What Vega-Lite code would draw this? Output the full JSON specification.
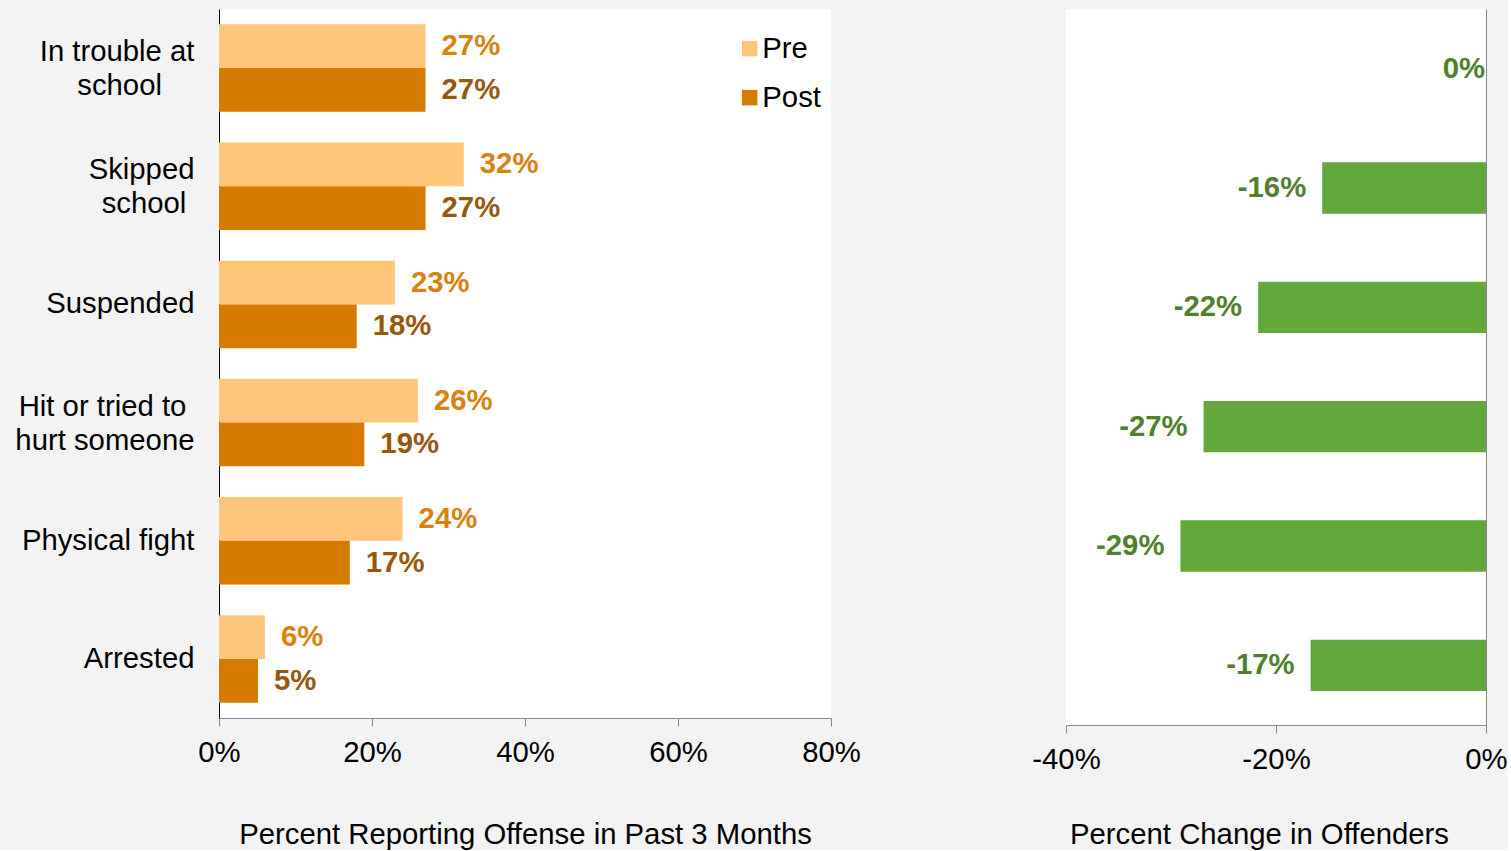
{
  "$schema": "https://vega.github.io/schema/vega-lite/v6.json",
  "background": "#f3f3f3",
  "padding": {"left": 14, "top": 9, "right": 0, "bottom": 0},
  "bounds": "flush",
  "spacing": 235,
  "config": {
    "font": "Liberation Sans",
    "view": {"fill": "white", "stroke": null},
    "axis": {
      "labelFont": "Liberation Sans",
      "labelFontSize": 29.3,
      "labelColor": "#000000",
      "titleFont": "Liberation Sans",
      "titleFontSize": 29.3,
      "titleFontWeight": "normal",
      "titleColor": "#000000",
      "grid": false,
      "labelFlush": false
    },
    "locale": {
      "number": {"decimal": ".", "thousands": ",", "grouping": [3], "currency": ["$", ""], "minus": "-"}
    }
  },
  "datasets": {
    "offense": [
      {"behavior": "In trouble at school", "period": "Pre", "pct": 0.27},
      {"behavior": "In trouble at school", "period": "Post", "pct": 0.27},
      {"behavior": "Skipped school", "period": "Pre", "pct": 0.32},
      {"behavior": "Skipped school", "period": "Post", "pct": 0.27},
      {"behavior": "Suspended", "period": "Pre", "pct": 0.23},
      {"behavior": "Suspended", "period": "Post", "pct": 0.18},
      {"behavior": "Hit or tried to hurt someone", "period": "Pre", "pct": 0.26},
      {"behavior": "Hit or tried to hurt someone", "period": "Post", "pct": 0.19},
      {"behavior": "Physical fight", "period": "Pre", "pct": 0.24},
      {"behavior": "Physical fight", "period": "Post", "pct": 0.171},
      {"behavior": "Arrested", "period": "Pre", "pct": 0.06},
      {"behavior": "Arrested", "period": "Post", "pct": 0.051}
    ],
    "change": [
      {"behavior": "In trouble at school", "change": 0},
      {"behavior": "Skipped school", "change": -0.156},
      {"behavior": "Suspended", "change": -0.217},
      {"behavior": "Hit or tried to hurt someone", "change": -0.269},
      {"behavior": "Physical fight", "change": -0.291},
      {"behavior": "Arrested", "change": -0.167}
    ]
  },
  "hconcat": [
    {
      "width": 612,
      "height": 709,
      "data": {"name": "offense"},
      "encoding": {
        "y": {
          "field": "behavior",
          "type": "nominal",
          "sort": ["In trouble at school", "Skipped school", "Suspended", "Hit or tried to hurt someone", "Physical fight", "Arrested"],
          "scale": {"paddingInner": 0.26, "paddingOuter": 0.13},
          "axis": {
            "title": null,
            "labelExpr": "datum.value == 'In trouble at school' ? ['In trouble at', 'school\u00a0\u00a0\u00a0\u00a0\u200b'] : datum.value == 'Skipped school' ? ['Skipped', 'school\u00a0\u200b'] : datum.value == 'Hit or tried to hurt someone' ? ['Hit or tried to\u00a0\u200b', 'hurt someone'] : datum.value",
            "labelLineHeight": 34,
            "labelOffset": {"condition": {"test": "indexof(['In trouble at school', 'Skipped school', 'Hit or tried to hurt someone'], datum.value) >= 0", "value": -16}, "value": 0},
            "ticks": false,
            "tickSize": 0,
            "labelPadding": 25,
            "labelAlign": "right",
            "labelBaseline": "middle",
            "domainColor": "#000000",
            "domainWidth": 1
          }
        },
        "yOffset": {"field": "period", "type": "nominal", "sort": ["Pre", "Post"]},
        "x": {
          "field": "pct",
          "type": "quantitative",
          "scale": {"domain": [0, 0.8]},
          "axis": {
            "format": ".0%",
            "values": [0, 0.2, 0.4, 0.6, 0.8],
            "title": "Percent Reporting Offense in Past 3 Months",
            "domainColor": "#888888",
            "tickColor": "#888888",
            "tickSize": 8,
            "labelPadding": 12,
            "titlePadding": 53
          }
        }
      },
      "layer": [
        {
          "mark": {"type": "bar"},
          "encoding": {
            "color": {
              "field": "period",
              "type": "nominal",
              "scale": {"domain": ["Pre", "Post"], "range": ["#FEC57B", "#D67B00"]},
              "legend": {
                "title": null,
                "orient": "none",
                "legendX": 516,
                "legendY": 25,
                "symbolType": "square",
                "symbolSize": 240,
                "symbolStrokeWidth": 0,
                "labelFont": "Liberation Sans",
                "labelFontSize": 29.3,
                "labelColor": "#000000",
                "labelOffset": -2,
                "rowPadding": 19
              }
            }
          }
        },
        {
          "mark": {"type": "text", "align": "left", "baseline": "middle", "dx": 16, "fontSize": 29.3, "fontWeight": "bold", "font": "Liberation Sans"},
          "encoding": {
            "text": {"field": "pct", "type": "quantitative", "format": ".0%"},
            "color": {"condition": {"test": "datum.period === 'Pre'", "value": "#D9820F"}, "value": "#98580B"}
          }
        }
      ]
    },
    {
      "width": 420,
      "height": 716,
      "data": {"name": "change"},
      "encoding": {
        "y": {
          "field": "behavior",
          "type": "nominal",
          "sort": ["In trouble at school", "Skipped school", "Suspended", "Hit or tried to hurt someone", "Physical fight", "Arrested"],
          "scale": {"paddingInner": 0.57, "paddingOuter": 0.285},
          "axis": {"orient": "right", "labels": false, "ticks": false, "title": null, "domainColor": "#888888"}
        },
        "x": {
          "field": "change",
          "type": "quantitative",
          "scale": {"domain": [-0.4, 0]},
          "axis": {
            "format": ".0%",
            "values": [-0.4, -0.2, 0],
            "title": "Percent Change in Offenders",
            "titleX": 193,
            "domainColor": "#888888",
            "tickColor": "#888888",
            "tickSize": 8,
            "labelPadding": 12,
            "titlePadding": 46
          }
        }
      },
      "layer": [
        {"mark": {"type": "bar", "color": "#63A83A"}},
        {
          "transform": [{"filter": "datum.change < 0"}],
          "mark": {"type": "text", "align": "right", "baseline": "middle", "dx": -16, "fontSize": 29.3, "fontWeight": "bold", "font": "Liberation Sans", "color": "#4F802E"},
          "encoding": {"text": {"field": "change", "type": "quantitative", "format": ".0%"}}
        },
        {
          "transform": [{"filter": "datum.change == 0"}],
          "mark": {"type": "text", "align": "right", "baseline": "middle", "dx": -1, "fontSize": 29.3, "fontWeight": "bold", "font": "Liberation Sans", "color": "#4F802E"},
          "encoding": {"text": {"field": "change", "type": "quantitative", "format": ".0%"}}
        }
      ]
    }
  ]
}
